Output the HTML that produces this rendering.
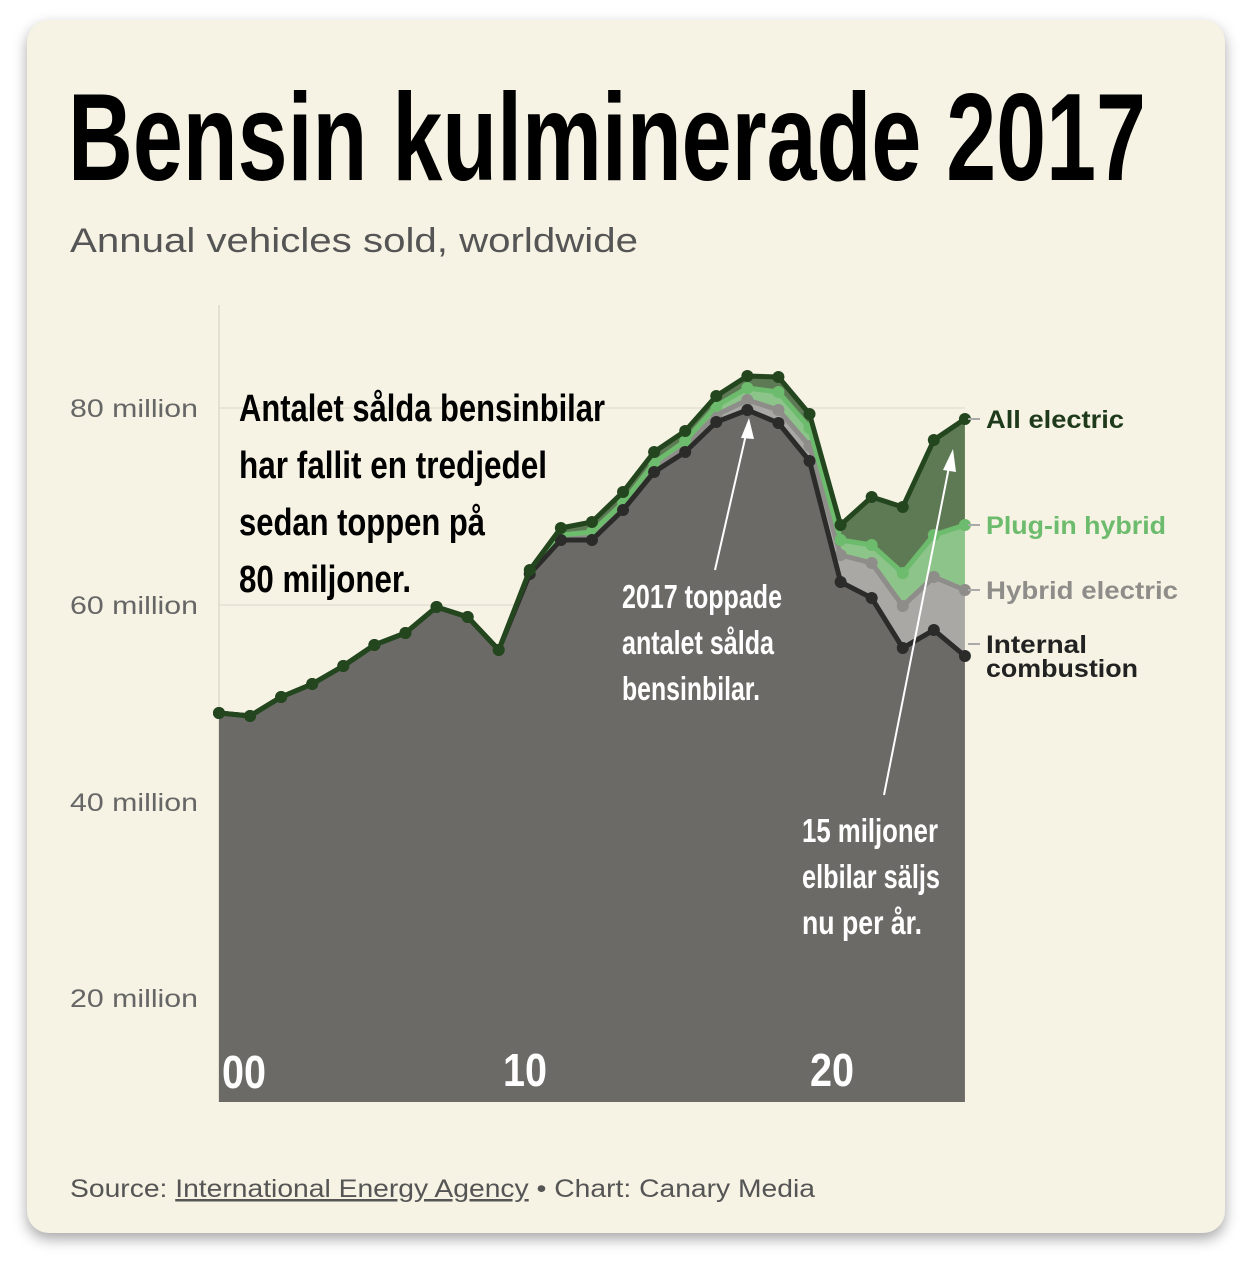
<!DOCTYPE html><html><head><meta charset="utf-8"><style>
body{margin:0;width:1254px;height:1264px;background:#fff;overflow:hidden;font-family:"Liberation Sans",sans-serif}
.card{position:absolute;left:27px;top:20px;width:1198px;height:1213px;background:#f6f3e4;border-radius:22px;box-shadow:0 6px 14px rgba(0,0,0,.35)}
</style></head><body><div class="card"></div>
<svg id="s" width="1254" height="1264" style="position:absolute;left:0;top:0"></svg>
<script>
const X=i=>219+i*31.08;
const ice=[713,716,697,684,666,645,633,607,617,650,574,540,540,510,472,452,422,410,423,461,582,598,648,630,656];
const hyb=[713,716,697,684,666,645,633,607,617,650,574,538,537,507,468,446,415,400,410,446,555,563,606,577,590];
const phv=[713,716,697,684,666,645,633,607,617,650,572,535,532,503,463,441,406,388,392,428,540,545,573,535,525];
const all=[713,716,697,684,666,645,633,607,617,650,570,528,522,492,452,431,396,376,377,414,525,497,507,440,419];
function line(a){return a.map((v,i)=>(i?'L':'M')+X(i)+','+v).join('')}
function area(top,bot){let p=line(top);for(let i=bot.length-1;i>=0;i--)p+='L'+X(i)+','+bot[i];return p+'Z'}
const B=Array(25).fill(1102);
const F='font-family="Liberation Sans"';
let h='';
function T(x,y,t,size,col,len,extra=''){return `<text x="${x}" y="${y}" font-size="${size}" fill="${col}" ${F} textLength="${len}" lengthAdjust="spacingAndGlyphs" ${extra}>${t}</text>`}
h+=`<text x="68" y="180" font-size="124" font-weight="bold" fill="#000" font-family="Liberation Sans Narrow, Liberation Sans" textLength="1078" lengthAdjust="spacingAndGlyphs">Bensin kulminerade 2017</text>`;
h+=T(70,252,'Annual vehicles sold, worldwide',34,'#555',568);
h+=`<text x="70" y="1197" font-size="25" fill="#555" ${F} textLength="745" lengthAdjust="spacingAndGlyphs">Source: <tspan text-decoration="underline">International Energy Agency</tspan> • Chart: Canary Media</text>`;
for(const y of [408,605,802,998])h+=`<line x1="219" x2="965" y1="${y}" y2="${y}" stroke="#e8e5d8" stroke-width="2"/>`;
h+=`<line x1="219" x2="219" y1="305" y2="1102" stroke="#e3e0d2" stroke-width="2"/>`;
[[80,408],[60,605],[40,802],[20,998]].forEach(([n,y])=>h+=T(70,y+9,n+' million',25,'#666',128));
h+=`<path d="${area(all,phv)}" fill="#5e7a55"/><path d="${area(phv,hyb)}" fill="#8cc48a"/><path d="${area(hyb,ice)}" fill="#a9a8a5"/><path d="${area(ice,B)}" fill="#6b6a66"/>`;
const S=[[hyb,'#8e8d8a'],[phv,'#6dbb6d'],[ice,'#2b2b2a'],[all,'#24461f']];
for(const [a,c] of S){h+=`<path d="${line(a)}" fill="none" stroke="${c}" stroke-width="5" stroke-linejoin="round"/>`;a.forEach((v,i)=>h+=`<circle cx="${X(i)}" cy="${v}" r="6" fill="${c}"/>`);}
const lab=[[419,'All electric','#1e3a1a',138],[525,'Plug-in hybrid','#6dbb6d',180],[590,'Hybrid electric','#8e8d8a',192],[644,'Internal','#222',101]];
lab.forEach(([y,t,c,l])=>{h+=`<line x1="968" x2="980" y1="${y}" y2="${y}" stroke="#aaa" stroke-width="2"/>`+T(986,y+9,t,25,c,l,'font-weight="bold"')});
h+=T(986,677,'combustion',25,'#222',152,'font-weight="bold"');
h+=`<line x1="715" y1="570" x2="747" y2="430" stroke="#fff" stroke-width="2"/><polygon points="749,418 741,438 754,439" fill="#fff"/>`;
h+=`<line x1="884" y1="795" x2="950" y2="462" stroke="#fff" stroke-width="2"/><polygon points="953,449 943,470 956,472" fill="#fff"/>`;
function tx(x,y,lines,size,col,lh){lines.forEach((l,i)=>h+=`<text x="${x}" y="${y+i*lh}" font-size="${size}" font-weight="bold" fill="${col}" font-family="Liberation Sans Narrow, Liberation Sans" textLength="${l[1]}" lengthAdjust="spacingAndGlyphs">${l[0]}</text>`)}
tx(239,421,[['Antalet sålda bensinbilar',366],['har fallit en tredjedel',308],['sedan toppen på',246],['80 miljoner.',172]],38,'#000',57);
tx(622,608,[['2017 toppade',160],['antalet sålda',152],['bensinbilar.',138]],33,'#fff',46);
tx(802,842,[['15 miljoner',136],['elbilar säljs',138],['nu  per år.',120]],33,'#fff',46);
tx(222,1088,[['00',44]],46,'#fff',0);tx(503,1086,[['10',44]],46,'#fff',0);tx(810,1086,[['20',44]],46,'#fff',0);
document.getElementById('s').innerHTML=h;
</script></body></html>
